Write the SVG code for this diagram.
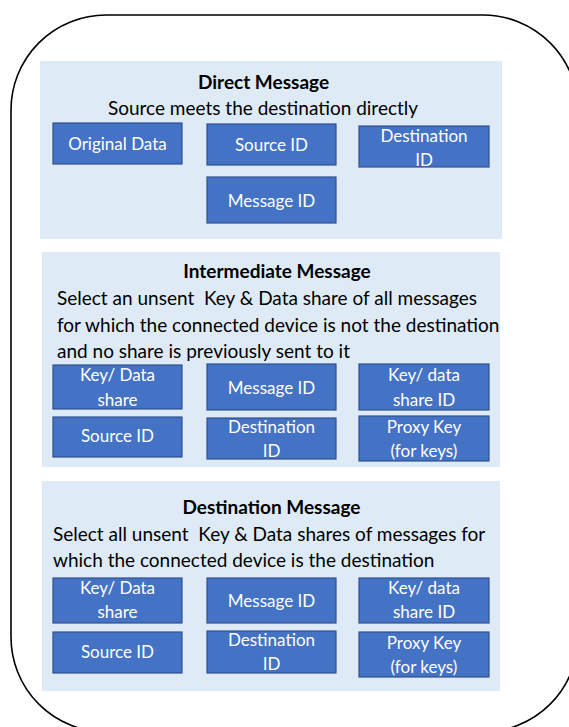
<svg xmlns="http://www.w3.org/2000/svg" width="569" height="727" viewBox="0 0 569 727">
  <style>
    text { font-family: "Lato", "Liberation Sans", sans-serif; font-size: 19px; }
    .frame { fill: #ffffff; stroke: #000000; stroke-width: 1.6; }
    .panel { fill: #DEEBF7; stroke: none; }
    .box { fill: #4472C4; stroke: #2F528F; stroke-width: 1.2; }
    .title { font-weight: bold; fill: #000000; text-anchor: middle; font-size: 19px; }
    .desc { fill: #000000; }
    .mid { text-anchor: middle; }
    .lbl { fill: #ffffff; text-anchor: middle; font-size: 17px; }
  </style>

  <rect width="569" height="727" fill="#ffffff"/>
  <!-- outer rounded frame (runs past the right and bottom edges) -->
  <rect class="frame" x="11" y="15" width="567" height="717" rx="95" ry="95"/>

  <!-- Direct message panel -->
  <g id="direct-message">
    <rect class="panel" x="40" y="61" width="462" height="178"/>
    <text class="title" x="263.5" y="89">Direct Message</text>
    <text class="desc mid" x="263" y="115">Source meets the destination directly</text>
    <g id="dm-original-data">
      <rect class="box" x="53" y="123" width="129" height="41"/>
      <text class="lbl" x="117.5" y="150">Original Data</text>
    </g>
    <g id="dm-source-id">
      <rect class="box" x="207" y="124" width="129" height="41"/>
      <text class="lbl" x="271.5" y="151">Source ID</text>
    </g>
    <g id="dm-destination-id">
      <rect class="box" x="359" y="126" width="130" height="41"/>
      <text class="lbl" x="424" y="142">Destination</text>
      <text class="lbl" x="424" y="166">ID</text>
    </g>
    <g id="dm-message-id">
      <rect class="box" x="207" y="177" width="129" height="46"/>
      <text class="lbl" x="271.5" y="207">Message ID</text>
    </g>
  </g>

  <!-- Intermediate message panel -->
  <g id="intermediate-message">
    <rect class="panel" x="42" y="252" width="458" height="215"/>
    <text class="title" x="277" y="278">Intermediate Message</text>
    <text class="desc" x="57" y="305" xml:space="preserve">Select an unsent  Key &amp; Data share of all messages</text>
    <text class="desc" x="57" y="332">for which the connected device is not the destination</text>
    <text class="desc" x="57" y="358">and no share is previously sent to it</text>
    <g id="im-share">
      <rect class="box" x="53" y="365" width="129" height="44"/>
      <text class="lbl" x="117.5" y="381">Key/ Data</text>
      <text class="lbl" x="117.5" y="406">share</text>
    </g>
    <g id="im-message-id">
      <rect class="box" x="207" y="364" width="129" height="46"/>
      <text class="lbl" x="271.5" y="394">Message ID</text>
    </g>
    <g id="im-share-id">
      <rect class="box" x="359" y="364" width="130" height="46"/>
      <text class="lbl" x="424" y="381">Key/ data</text>
      <text class="lbl" x="424" y="406">share ID</text>
    </g>
    <g id="im-source-id">
      <rect class="box" x="53" y="417" width="129" height="40"/>
      <text class="lbl" x="117.5" y="442">Source ID</text>
    </g>
    <g id="im-destination-id">
      <rect class="box" x="207" y="418" width="129" height="41"/>
      <text class="lbl" x="271.5" y="433">Destination</text>
      <text class="lbl" x="271.5" y="457">ID</text>
    </g>
    <g id="im-proxy-key">
      <rect class="box" x="359" y="416" width="130" height="45"/>
      <text class="lbl" x="424" y="433">Proxy Key</text>
      <text class="lbl" x="424" y="457">(for keys)</text>
    </g>
  </g>

  <!-- Destination message panel -->
  <g id="destination-message">
    <rect class="panel" x="42" y="481" width="458" height="210"/>
    <text class="title" x="271.5" y="514">Destination Message</text>
    <text class="desc" x="53" y="541" xml:space="preserve">Select all unsent  Key &amp; Data shares of messages for</text>
    <text class="desc" x="53" y="567">which the connected device is the destination</text>
    <g id="ds-share">
      <rect class="box" x="53" y="578" width="129" height="45"/>
      <text class="lbl" x="117.5" y="594">Key/ Data</text>
      <text class="lbl" x="117.5" y="618">share</text>
    </g>
    <g id="ds-message-id">
      <rect class="box" x="207" y="578" width="129" height="45"/>
      <text class="lbl" x="271.5" y="607">Message ID</text>
    </g>
    <g id="ds-share-id">
      <rect class="box" x="359" y="578" width="130" height="45"/>
      <text class="lbl" x="424" y="594">Key/ data</text>
      <text class="lbl" x="424" y="618">share ID</text>
    </g>
    <g id="ds-source-id">
      <rect class="box" x="53" y="632" width="129" height="41"/>
      <text class="lbl" x="117.5" y="658">Source ID</text>
    </g>
    <g id="ds-destination-id">
      <rect class="box" x="207" y="631" width="129" height="42"/>
      <text class="lbl" x="271.5" y="646">Destination</text>
      <text class="lbl" x="271.5" y="670">ID</text>
    </g>
    <g id="ds-proxy-key">
      <rect class="box" x="359" y="632" width="130" height="45"/>
      <text class="lbl" x="424" y="649">Proxy Key</text>
      <text class="lbl" x="424" y="673">(for keys)</text>
    </g>
  </g>

  <!-- no connectors in this figure -->
  <g id="connectors"/>
</svg>
